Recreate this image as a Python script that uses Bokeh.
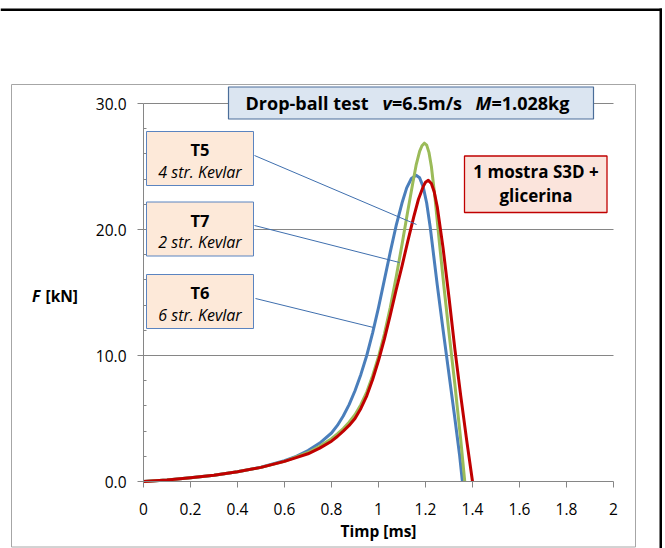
from bokeh.plotting import figure
from bokeh.models import (Range1d, FixedTicker, PrintfTickFormatter, NumeralTickFormatter,
                          BoxAnnotation, Label)
from bokeh.embed import file_html
from bokeh.resources import INLINE

# ---------------- data ----------------
# T6 (6 str. Kevlar) - blue
t_T6 = [0, 0.1, 0.2, 0.3, 0.4, 0.5, 0.6, 0.65, 0.7, 0.75, 0.8, 0.825, 0.85, 0.875, 0.9, 0.925,
        0.95, 0.975, 1.0, 1.025, 1.05, 1.075, 1.1, 1.12, 1.14, 1.16, 1.175, 1.19, 1.205, 1.22,
        1.235, 1.25, 1.275, 1.3, 1.325, 1.345, 1.357]
F_T6 = [0, 0.12, 0.3, 0.5, 0.78, 1.13, 1.65, 2.0, 2.45, 3.05, 3.85, 4.45, 5.2, 6.1, 7.2, 8.5,
        10.0, 11.8, 13.8, 16.0, 18.2, 20.3, 22.1, 23.3, 24.05, 24.3, 24.1, 23.4, 22.1, 20.2,
        17.9, 15.6, 12.0, 8.5, 5.0, 2.1, 0]
# T7 (2 str. Kevlar) - green
t_T7 = [0, 0.1, 0.2, 0.3, 0.4, 0.5, 0.6, 0.65, 0.7, 0.75, 0.8, 0.825, 0.85, 0.875, 0.9, 0.925,
        0.95, 0.975, 1.0, 1.025, 1.05, 1.075, 1.1, 1.125, 1.145, 1.16, 1.175, 1.185, 1.195,
        1.205, 1.215, 1.225, 1.24, 1.26, 1.28, 1.3, 1.325, 1.35, 1.367]
F_T7 = [0, 0.12, 0.3, 0.5, 0.78, 1.12, 1.6, 1.95, 2.3, 2.8, 3.4, 3.78, 4.2, 4.7, 5.3, 6.1,
        7.1, 8.4, 9.9, 11.7, 13.8, 16.2, 18.8, 21.5, 23.6, 25.1, 26.2, 26.65, 26.85,
        26.7, 26.1, 25.0, 22.6, 18.8, 15.2, 11.8, 7.7, 3.3, 0]
# T5 (4 str. Kevlar) - red
t_T5 = [0, 0.1, 0.2, 0.3, 0.4, 0.5, 0.6, 0.65, 0.7, 0.75, 0.8, 0.825, 0.85, 0.875, 0.9, 0.925,
        0.95, 0.975, 1.0, 1.025, 1.05, 1.075, 1.1, 1.125, 1.15, 1.17, 1.19, 1.2, 1.212, 1.225,
        1.237, 1.25, 1.275, 1.3, 1.325, 1.35, 1.375, 1.40]
F_T5 = [0, 0.12, 0.3, 0.5, 0.78, 1.12, 1.6, 1.9, 2.2, 2.65, 3.2, 3.57, 4.0, 4.45, 5.0, 5.8,
        6.8, 8.1, 9.6, 11.3, 13.2, 15.2, 17.1, 19.1, 21.0, 22.4, 23.4, 23.75, 23.9, 23.65,
        23.0, 21.8, 18.5, 14.6, 10.5, 6.8, 3.3, 0]

x_ticks = [0, 0.2, 0.4, 0.6, 0.8, 1, 1.2, 1.4, 1.6, 1.8, 2]
y_ticks = [0, 10, 20, 30]
y_minor = [2, 4, 6, 8, 12, 14, 16, 18, 22, 24, 26, 28]

title_parts = ["Drop-ball test", "v", "=6.5m/s", "M", "=1.028kg"]
box_labels = [("T5", "4 str. Kevlar"), ("T7", "2 str. Kevlar"), ("T6", "6 str. Kevlar")]
note_lines = ["1 mostra S3D +", "glicerina"]
x_title = "Timp [ms]"
y_title = ["F", "[kN]"]

FONT = "Open Sans"

# ---------------- layout (canvas px) ----------------
W, H = 665, 548
AX_L, AX_R, AX_B, AX_T = 143, 613, 481, 103      # where x=0..2 and F=0..30 sit
PX_X = (AX_R - AX_L) / (x_ticks[-1] - x_ticks[0])
PX_Y = (AX_B - AX_T) / (y_ticks[-1] - y_ticks[0])

def sx(x):          # canvas px -> screen units (frame == canvas)
    return x
def sy(y):
    return H - y
def dx(px):         # canvas px -> data
    return (px - AX_L) / PX_X
def dy(py):
    return (AX_B - py) / PX_Y

p = figure(width=W, height=H, output_backend="svg", toolbar_location=None,
           x_range=Range1d(dx(0), dx(W)), y_range=Range1d(dy(H), dy(0)),
           min_border_left=0, min_border_right=0, min_border_top=0, min_border_bottom=0)
p.outline_line_color = None
p.background_fill_color = "white"
p.border_fill_color = "white"

# axes, drawn at x=0 / F=0 inside the full-canvas frame
p.xaxis.fixed_location = 0
p.yaxis.fixed_location = 0
p.xaxis.bounds = (x_ticks[0], x_ticks[-1])
p.yaxis.bounds = (y_ticks[0], y_ticks[-1])
p.xaxis.ticker = FixedTicker(ticks=x_ticks)
p.xaxis.formatter = NumeralTickFormatter(format="0.[0]")
p.yaxis.ticker = FixedTicker(ticks=y_ticks, minor_ticks=y_minor)
p.yaxis.formatter = PrintfTickFormatter(format="%.1f")
for ax in (p.xaxis, p.yaxis):
    ax.axis_line_color = "#868686"
    ax.major_tick_line_color = "#868686"
    ax.minor_tick_line_color = "#868686"
    ax.major_tick_out = 6
    ax.major_tick_in = 0
    ax.major_label_text_font = FONT
    ax.major_label_text_font_size = "15.5px"
    ax.major_label_text_color = "black"
p.xaxis.minor_tick_line_color = None
p.yaxis.minor_tick_in = 3
p.yaxis.minor_tick_out = 0
p.yaxis.major_label_standoff = 11
p.xaxis.major_label_standoff = 15

p.xgrid.grid_line_color = None
p.ygrid.grid_line_color = None
# horizontal gridlines over the axis span only
gy = y_ticks[1:]
p.segment(x0=[x_ticks[0]] * len(gy), y0=gy, x1=[x_ticks[-1]] * len(gy), y1=gy,
          line_color="#868686", line_width=1)

def box(l, r, t, b, fill, line, lw=1, level="annotation"):
    p.add_layout(BoxAnnotation(left=sx(l), right=sx(r), top=sy(t), bottom=sy(b),
                               left_units="screen", right_units="screen", top_units="screen",
                               bottom_units="screen", fill_color=fill, fill_alpha=1,
                               line_color=line, line_alpha=1, line_width=lw, level=level))

def label(x, y, text, size="16px", style="bold", align="center"):
    p.add_layout(Label(x=sx(x), y=sy(y), x_units="screen", y_units="screen", text=text,
                       text_font=FONT, text_font_size=size, text_font_style=style,
                       text_align=align, text_baseline="middle", text_color="black"))

# page frame: grey chart border, black cell lines
box(11, 635, 84, 546.5, None, "#a6a6a6", 1, level="underlay")
box(0, 661.5, 8, 10.5, "black", None)
box(659, 661.5, 8, 548, "black", None)

# curves
p.line(t_T6, F_T6, line_color="#4a7ebb", line_width=3, line_join="round")
p.line(t_T7, F_T7, line_color="#9bbb59", line_width=3, line_join="round")
p.line(t_T5, F_T5, line_color="#c00000", line_width=3, line_join="round")

# leader lines (canvas px of callout anchors -> data)
leaders = [((254, 155), (416, 224)), ((254, 225), (399, 262)), ((255, 298), (373, 327))]
p.segment(x0=[dx(a[0]) for a, b in leaders], y0=[dy(a[1]) for a, b in leaders],
          x1=[dx(b[0]) for a, b in leaders], y1=[dy(b[1]) for a, b in leaders],
          line_color="#3f6fae", line_width=1)

# title box
box(228, 593, 86.5, 118.5, "#dbe5f1", "#4a6d99", 1.2)
tx = [245, 382, 391.5, 475, 491]
tstyle = ["bold", "bold italic", "bold", "bold italic", "bold"]
for x, txt, st in zip(tx, title_parts, tstyle):
    label(x, 102.5, txt, size="18px", style=st, align="left")

# callout boxes
box_tops = [131, 201.5, 274]
for top, (name, desc) in zip(box_tops, box_labels):
    box(146, 253, top, top + 54, "#fde9d9", "#5b84c0", 1)
    label(199.5, top + 18, name, size="16.5px", style="bold")
    label(199.5, top + 40, desc, size="16px", style="italic")

# note box
box(464, 606.5, 155.5, 212, "#fbe4dc", "#c00000", 1.3)
label(535.5, 171, note_lines[0], size="17px", style="bold")
label(535.5, 194.5, note_lines[1], size="17px", style="bold")

# axis titles
label(31.5, 295, y_title[0], size="15.5px", style="bold italic", align="left")
label(45, 295, y_title[1], size="15.5px", style="bold", align="left")
label(378, 530, x_title, size="15.5px", style="bold")

open("out.html", "w").write(file_html(p, INLINE))
